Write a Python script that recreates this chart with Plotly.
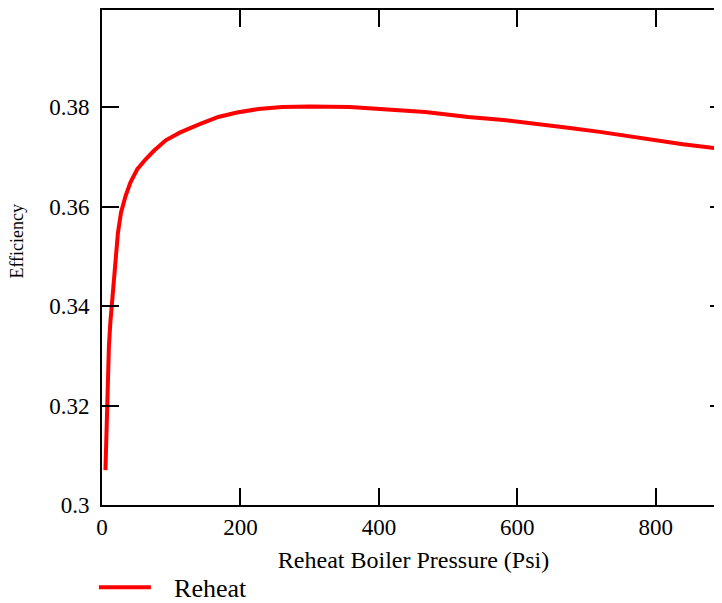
import plotly.graph_objects as go

pressure = [5, 6.5, 7.5, 8.5, 10, 12, 15.5, 18, 20.5, 23, 27.5, 34, 41, 51, 63, 75, 92, 113,
            142, 168, 195, 226, 260, 300, 358, 380, 430, 467, 498, 529, 580, 628, 676, 719,
            782, 839, 895, 900]
efficiency = [0.3070, 0.3140, 0.3210, 0.3280, 0.3320, 0.3366, 0.3426, 0.3473, 0.3507, 0.3547,
              0.3588, 0.3621, 0.3648, 0.3675, 0.3695, 0.3712, 0.3733, 0.3749, 0.3766, 0.3780,
              0.3789, 0.3796, 0.3800, 0.3801, 0.3800, 0.3798, 0.3793, 0.3790, 0.3785, 0.3780,
              0.3774, 0.3767, 0.3758, 0.3750, 0.3737, 0.3725, 0.3716, 0.3715]
x_ticks = [0, 200, 400, 600, 800]
y_ticks = [0.30, 0.32, 0.34, 0.36, 0.38]
y_tick_text = ["0.3", "0.32", "0.34", "0.36", "0.38"]

FONT = "Liberation Serif"

def f(size):
    return dict(family=FONT, size=size, color="black")

fig = go.Figure()
fig.add_trace(go.Scatter(x=pressure, y=efficiency, mode="lines",
                         name="\u00a0\u00a0\u2009Reheat",
                         line=dict(color="#ff0000", width=4)))
# invisible trace to bind right-side axis ticks
fig.add_trace(go.Scatter(x=[pressure[0]], y=[efficiency[0]], yaxis="y2", mode="lines",
                         showlegend=False, hoverinfo="skip", line=dict(width=0)))

fig.update_layout(
    template="none",
    width=722, height=603,
    margin=dict(l=93.7, r=4.5, t=2, b=106, autoexpand=False),
    paper_bgcolor="white", plot_bgcolor="white",
    font=f(23),
    xaxis=dict(range=[0, 900], tickvals=x_ticks, ticks="inside", ticklen=17, tickwidth=1.5,
               tickcolor="black", showline=True, linewidth=2, linecolor="black", mirror="ticks",
               showgrid=False, zeroline=False, tickfont=f(23), ticklabelstandoff=0,
               automargin=False,
               title=dict(text="Reheat Boiler Pressure (Psi)", font=f(24), standoff=13)),
    yaxis=dict(range=[0.3, 0.3995], tickvals=y_ticks, ticktext=y_tick_text, ticks="inside",
               ticklen=17, tickwidth=1.5, tickcolor="black", showline=True, linewidth=2,
               linecolor="black", showgrid=False, zeroline=False, tickfont=f(23),
               ticklabelstandoff=6, automargin=False),
    yaxis2=dict(range=[0.3, 0.3995], tickvals=y_ticks, overlaying="y", side="right",
                ticks="inside", ticklen=15, tickwidth=1.5, tickcolor="black", showline=False,
                showticklabels=False, showgrid=False, zeroline=False, automargin=False),
    showlegend=True,
    legend=dict(x=-0.013, y=-0.119, xanchor="left", yanchor="top", orientation="h",
                font=f(26), itemwidth=52, bgcolor="rgba(0,0,0,0)"),
    annotations=[dict(text="Efficiency", textangle=-90, xref="paper", yref="paper",
                      x=-0.1358, y=0.533, xanchor="center", yanchor="middle", showarrow=False,
                      font=f(18))],
)

fig.write_html("out.html")
